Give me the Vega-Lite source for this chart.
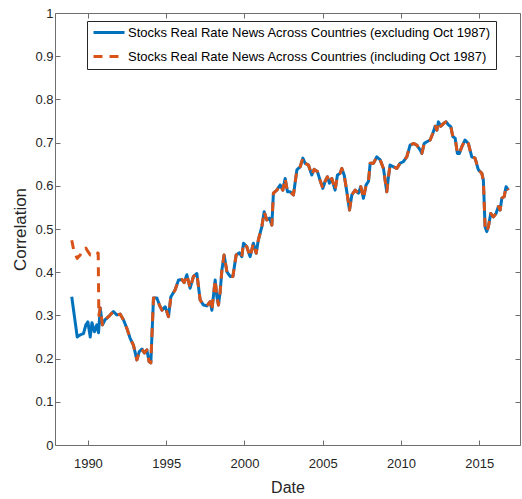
{
  "$schema": "https://vega.github.io/schema/vega-lite/v6.json",
  "width": 465,
  "height": 432,
  "autosize": {"type": "none"},
  "padding": {"left": 55, "top": 13, "right": 2, "bottom": 54},
  "background": "white",
  "config": {
    "view": {"stroke": null},
    "font": "Liberation Sans",
    "axis": {
      "grid": false,
      "domainColor": "#6e6e6e",
      "tickColor": "#6e6e6e",
      "tickSize": -5,
      "labelColor": "#262626",
      "labelFontSize": 13,
      "labelFont": "Liberation Sans",
      "titleFont": "Liberation Sans",
      "titleFontSize": 16,
      "titleFontWeight": "normal",
      "titleColor": "#262626"
    }
  },
  "data": {
    "values": [
      {"t": 1988.97, "ex": 0.343, "inc": 0.474},
      {"t": 1989.10, "ex": null, "inc": 0.45},
      {"t": 1989.32, "ex": 0.25, "inc": 0.432},
      {"t": 1989.51, "ex": 0.255, "inc": 0.44},
      {"t": 1989.72, "ex": 0.258, "inc": 0.45},
      {"t": 1989.87, "ex": 0.278, "inc": 0.456},
      {"t": 1990.00, "ex": 0.285, "inc": 0.448},
      {"t": 1990.15, "ex": 0.25, "inc": 0.44},
      {"t": 1990.26, "ex": 0.283, "inc": 0.443},
      {"t": 1990.42, "ex": 0.262, "inc": 0.447},
      {"t": 1990.57, "ex": 0.278, "inc": 0.445},
      {"t": 1990.66, "ex": null, "inc": 0.444},
      {"t": 1990.68, "ex": 0.26, "inc": null},
      {"t": 1990.70, "ex": null, "inc": 0.30},
      {"t": 1990.79, "ex": 0.317, "inc": 0.317},
      {"t": 1990.93, "ex": 0.278, "inc": 0.278},
      {"t": 1991.10, "ex": 0.29, "inc": 0.29},
      {"t": 1991.32, "ex": 0.297, "inc": 0.297},
      {"t": 1991.63, "ex": 0.309, "inc": 0.309},
      {"t": 1991.85, "ex": 0.301, "inc": 0.301},
      {"t": 1992.06, "ex": 0.303, "inc": 0.303},
      {"t": 1992.27, "ex": 0.29, "inc": 0.29},
      {"t": 1992.49, "ex": 0.27, "inc": 0.27},
      {"t": 1992.70, "ex": 0.247, "inc": 0.247},
      {"t": 1992.91, "ex": 0.231, "inc": 0.231},
      {"t": 1993.13, "ex": 0.197, "inc": 0.197},
      {"t": 1993.28, "ex": 0.216, "inc": 0.216},
      {"t": 1993.45, "ex": 0.222, "inc": 0.222},
      {"t": 1993.61, "ex": 0.213, "inc": 0.213},
      {"t": 1993.77, "ex": 0.22, "inc": 0.22},
      {"t": 1993.91, "ex": 0.193, "inc": 0.193},
      {"t": 1994.02, "ex": 0.19, "inc": 0.19},
      {"t": 1994.19, "ex": 0.34, "inc": 0.34},
      {"t": 1994.41, "ex": 0.34, "inc": 0.34},
      {"t": 1994.57, "ex": 0.324, "inc": 0.324},
      {"t": 1994.73, "ex": 0.312, "inc": 0.312},
      {"t": 1994.94, "ex": 0.32, "inc": 0.32},
      {"t": 1995.15, "ex": 0.297, "inc": 0.297},
      {"t": 1995.30, "ex": 0.343, "inc": 0.343},
      {"t": 1995.57, "ex": 0.359, "inc": 0.359},
      {"t": 1995.79, "ex": 0.382, "inc": 0.382},
      {"t": 1996.00, "ex": 0.383, "inc": 0.383},
      {"t": 1996.15, "ex": 0.376, "inc": 0.376},
      {"t": 1996.32, "ex": 0.394, "inc": 0.394},
      {"t": 1996.53, "ex": 0.363, "inc": 0.363},
      {"t": 1996.74, "ex": 0.39, "inc": 0.39},
      {"t": 1996.96, "ex": 0.397, "inc": 0.397},
      {"t": 1997.17, "ex": 0.336, "inc": 0.336},
      {"t": 1997.38, "ex": 0.324, "inc": 0.324},
      {"t": 1997.60, "ex": 0.322, "inc": 0.322},
      {"t": 1997.81, "ex": 0.332, "inc": 0.332},
      {"t": 1997.92, "ex": 0.312, "inc": 0.312},
      {"t": 1998.13, "ex": 0.382, "inc": 0.382},
      {"t": 1998.24, "ex": 0.343, "inc": 0.343},
      {"t": 1998.34, "ex": 0.324, "inc": 0.324},
      {"t": 1998.45, "ex": 0.355, "inc": 0.355},
      {"t": 1998.56, "ex": 0.405, "inc": 0.405},
      {"t": 1998.70, "ex": 0.44, "inc": 0.44},
      {"t": 1998.88, "ex": 0.401, "inc": 0.401},
      {"t": 1999.09, "ex": 0.39, "inc": 0.39},
      {"t": 1999.26, "ex": 0.39, "inc": 0.39},
      {"t": 1999.47, "ex": 0.44, "inc": 0.44},
      {"t": 1999.68, "ex": 0.445, "inc": 0.445},
      {"t": 1999.83, "ex": 0.436, "inc": 0.436},
      {"t": 1999.94, "ex": 0.467, "inc": 0.467},
      {"t": 2000.15, "ex": 0.459, "inc": 0.459},
      {"t": 2000.36, "ex": 0.436, "inc": 0.436},
      {"t": 2000.57, "ex": 0.467, "inc": 0.467},
      {"t": 2000.75, "ex": 0.444, "inc": 0.444},
      {"t": 2000.89, "ex": 0.475, "inc": 0.475},
      {"t": 2001.11, "ex": 0.505, "inc": 0.505},
      {"t": 2001.26, "ex": 0.54, "inc": 0.54},
      {"t": 2001.43, "ex": 0.521, "inc": 0.521},
      {"t": 2001.60, "ex": 0.525, "inc": 0.525},
      {"t": 2001.75, "ex": 0.509, "inc": 0.509},
      {"t": 2001.85, "ex": 0.583, "inc": 0.583},
      {"t": 2002.07, "ex": 0.59, "inc": 0.59},
      {"t": 2002.28, "ex": 0.602, "inc": 0.602},
      {"t": 2002.45, "ex": 0.59, "inc": 0.59},
      {"t": 2002.60, "ex": 0.617, "inc": 0.617},
      {"t": 2002.75, "ex": 0.586, "inc": 0.586},
      {"t": 2002.92, "ex": 0.586, "inc": 0.586},
      {"t": 2003.13, "ex": 0.579, "inc": 0.579},
      {"t": 2003.35, "ex": 0.637, "inc": 0.637},
      {"t": 2003.56, "ex": 0.644, "inc": 0.644},
      {"t": 2003.73, "ex": 0.664, "inc": 0.664},
      {"t": 2003.88, "ex": 0.652, "inc": 0.652},
      {"t": 2004.09, "ex": 0.648, "inc": 0.648},
      {"t": 2004.30, "ex": 0.625, "inc": 0.625},
      {"t": 2004.45, "ex": 0.638, "inc": 0.638},
      {"t": 2004.66, "ex": 0.633, "inc": 0.633},
      {"t": 2004.83, "ex": 0.613, "inc": 0.613},
      {"t": 2005.01, "ex": 0.594, "inc": 0.594},
      {"t": 2005.15, "ex": 0.61, "inc": 0.61},
      {"t": 2005.30, "ex": 0.621, "inc": 0.621},
      {"t": 2005.43, "ex": 0.606, "inc": 0.606},
      {"t": 2005.58, "ex": 0.617, "inc": 0.617},
      {"t": 2005.79, "ex": 0.59, "inc": 0.59},
      {"t": 2005.94, "ex": 0.625, "inc": 0.625},
      {"t": 2006.11, "ex": 0.629, "inc": 0.629},
      {"t": 2006.22, "ex": 0.64, "inc": 0.64},
      {"t": 2006.37, "ex": 0.625, "inc": 0.625},
      {"t": 2006.54, "ex": 0.586, "inc": 0.586},
      {"t": 2006.71, "ex": 0.544, "inc": 0.544},
      {"t": 2006.86, "ex": 0.579, "inc": 0.579},
      {"t": 2007.07, "ex": 0.59, "inc": 0.59},
      {"t": 2007.28, "ex": 0.583, "inc": 0.583},
      {"t": 2007.43, "ex": 0.598, "inc": 0.598},
      {"t": 2007.60, "ex": 0.571, "inc": 0.571},
      {"t": 2007.77, "ex": 0.602, "inc": 0.602},
      {"t": 2007.92, "ex": 0.61, "inc": 0.61},
      {"t": 2008.03, "ex": 0.652, "inc": 0.652},
      {"t": 2008.24, "ex": 0.652, "inc": 0.652},
      {"t": 2008.45, "ex": 0.667, "inc": 0.667},
      {"t": 2008.67, "ex": 0.66, "inc": 0.66},
      {"t": 2008.88, "ex": 0.64, "inc": 0.64},
      {"t": 2009.09, "ex": 0.586, "inc": 0.586},
      {"t": 2009.20, "ex": 0.621, "inc": 0.621},
      {"t": 2009.30, "ex": 0.648, "inc": 0.648},
      {"t": 2009.52, "ex": 0.644, "inc": 0.644},
      {"t": 2009.73, "ex": 0.64, "inc": 0.64},
      {"t": 2009.94, "ex": 0.652, "inc": 0.652},
      {"t": 2010.15, "ex": 0.656, "inc": 0.656},
      {"t": 2010.37, "ex": 0.667, "inc": 0.667},
      {"t": 2010.58, "ex": 0.694, "inc": 0.694},
      {"t": 2010.79, "ex": 0.698, "inc": 0.698},
      {"t": 2011.01, "ex": 0.694, "inc": 0.694},
      {"t": 2011.22, "ex": 0.683, "inc": 0.683},
      {"t": 2011.33, "ex": 0.675, "inc": 0.675},
      {"t": 2011.48, "ex": 0.698, "inc": 0.698},
      {"t": 2011.65, "ex": 0.702, "inc": 0.702},
      {"t": 2011.86, "ex": 0.706, "inc": 0.706},
      {"t": 2012.03, "ex": 0.721, "inc": 0.721},
      {"t": 2012.18, "ex": 0.738, "inc": 0.738},
      {"t": 2012.29, "ex": 0.729, "inc": 0.729},
      {"t": 2012.39, "ex": 0.748, "inc": 0.748},
      {"t": 2012.54, "ex": 0.738, "inc": 0.738},
      {"t": 2012.71, "ex": 0.744, "inc": 0.744},
      {"t": 2012.88, "ex": 0.748, "inc": 0.748},
      {"t": 2013.03, "ex": 0.741, "inc": 0.741},
      {"t": 2013.18, "ex": 0.737, "inc": 0.737},
      {"t": 2013.31, "ex": 0.714, "inc": 0.714},
      {"t": 2013.46, "ex": 0.71, "inc": 0.71},
      {"t": 2013.60, "ex": 0.675, "inc": 0.675},
      {"t": 2013.73, "ex": 0.675, "inc": 0.675},
      {"t": 2013.88, "ex": 0.69, "inc": 0.69},
      {"t": 2014.09, "ex": 0.706, "inc": 0.706},
      {"t": 2014.30, "ex": 0.698, "inc": 0.698},
      {"t": 2014.52, "ex": 0.667, "inc": 0.667},
      {"t": 2014.73, "ex": 0.664, "inc": 0.664},
      {"t": 2014.94, "ex": 0.637, "inc": 0.637},
      {"t": 2015.16, "ex": 0.629, "inc": 0.629},
      {"t": 2015.26, "ex": 0.613, "inc": 0.613},
      {"t": 2015.37, "ex": 0.505, "inc": 0.505},
      {"t": 2015.48, "ex": 0.494, "inc": 0.494},
      {"t": 2015.58, "ex": 0.505, "inc": 0.505},
      {"t": 2015.73, "ex": 0.536, "inc": 0.536},
      {"t": 2015.90, "ex": 0.528, "inc": 0.528},
      {"t": 2016.07, "ex": 0.536, "inc": 0.536},
      {"t": 2016.22, "ex": 0.552, "inc": 0.552},
      {"t": 2016.33, "ex": 0.544, "inc": 0.544},
      {"t": 2016.44, "ex": 0.571, "inc": 0.571},
      {"t": 2016.59, "ex": 0.575, "inc": 0.575},
      {"t": 2016.71, "ex": 0.598, "inc": 0.598},
      {"t": 2016.86, "ex": 0.59, "inc": 0.59}
    ]
  },
  "transform": [
    {"fold": ["ex", "inc"], "as": ["s", "v"]},
    {"filter": "isValid(datum.v)"}
  ],
  "layer": [
    {
      "mark": {"type": "line", "strokeWidth": 3, "clip": true, "strokeJoin": "round"},
      "encoding": {
        "x": {
          "field": "t", "type": "quantitative",
          "scale": {"domain": [1987.9, 2017.6], "nice": false, "zero": false},
          "axis": {"orient": "bottom", "values": [1990, 1995, 2000, 2005, 2010, 2015], "format": "d", "labelPadding": 17, "title": "Date", "titlePadding": 9}
        },
        "y": {
          "field": "v", "type": "quantitative",
          "scale": {"domain": [0, 1], "nice": false},
          "axis": {"orient": "left", "values": [0, 0.1, 0.2, 0.3, 0.4, 0.5, 0.6, 0.7, 0.8, 0.9, 1], "format": ".1~f", "labelPadding": 7, "title": "Correlation", "titlePadding": 5, "titleFontSize": 17}
        },
        "color": {
          "field": "s", "type": "nominal",
          "scale": {"domain": ["ex", "inc"], "range": ["#0072BD", "#D95319"]},
          "legend": {
            "orient": "none", "legendX": 32, "legendY": 8, "title": null, "direction": "vertical",
            "strokeColor": "#262626", "fillColor": "white", "padding": 5,
            "symbolType": "stroke", "symbolSize": 961, "symbolStrokeWidth": 3,
            "labelFontSize": 13, "labelFont": "Liberation Sans", "labelColor": "black", "labelLimit": 500, "labelOffset": 2,
            "rowPadding": 10, "clipHeight": 13,
            "labelExpr": "datum.label == 'ex' ? 'Stocks Real Rate News Across Countries (excluding Oct 1987)' : 'Stocks Real Rate News Across Countries (including Oct 1987)'"
          }
        },
        "strokeDash": {
          "field": "s", "type": "nominal",
          "scale": {"domain": ["ex", "inc"], "range": [[1, 0], [9, 7]]},
          "legend": {
            "orient": "none", "legendX": 32, "legendY": 8, "title": null, "direction": "vertical",
            "strokeColor": "#262626", "fillColor": "white", "padding": 5,
            "symbolType": "stroke", "symbolSize": 961, "symbolStrokeWidth": 3,
            "labelFontSize": 13, "labelFont": "Liberation Sans", "labelColor": "black", "labelLimit": 500, "labelOffset": 2,
            "rowPadding": 10, "clipHeight": 13,
            "labelExpr": "datum.label == 'ex' ? 'Stocks Real Rate News Across Countries (excluding Oct 1987)' : 'Stocks Real Rate News Across Countries (including Oct 1987)'"
          }
        }
      }
    },
    {
      "mark": {"type": "point", "opacity": 0},
      "encoding": {
        "x": {
          "field": "t", "type": "quantitative",
          "axis": {"orient": "top", "values": [1990, 1995, 2000, 2005, 2010, 2015], "labels": false, "title": null}
        },
        "y": {
          "field": "v", "type": "quantitative",
          "axis": {"orient": "right", "values": [0, 0.1, 0.2, 0.3, 0.4, 0.5, 0.6, 0.7, 0.8, 0.9, 1], "labels": false, "title": null}
        }
      }
    }
  ],
  "resolve": {"axis": {"x": "independent", "y": "independent"}}
}
